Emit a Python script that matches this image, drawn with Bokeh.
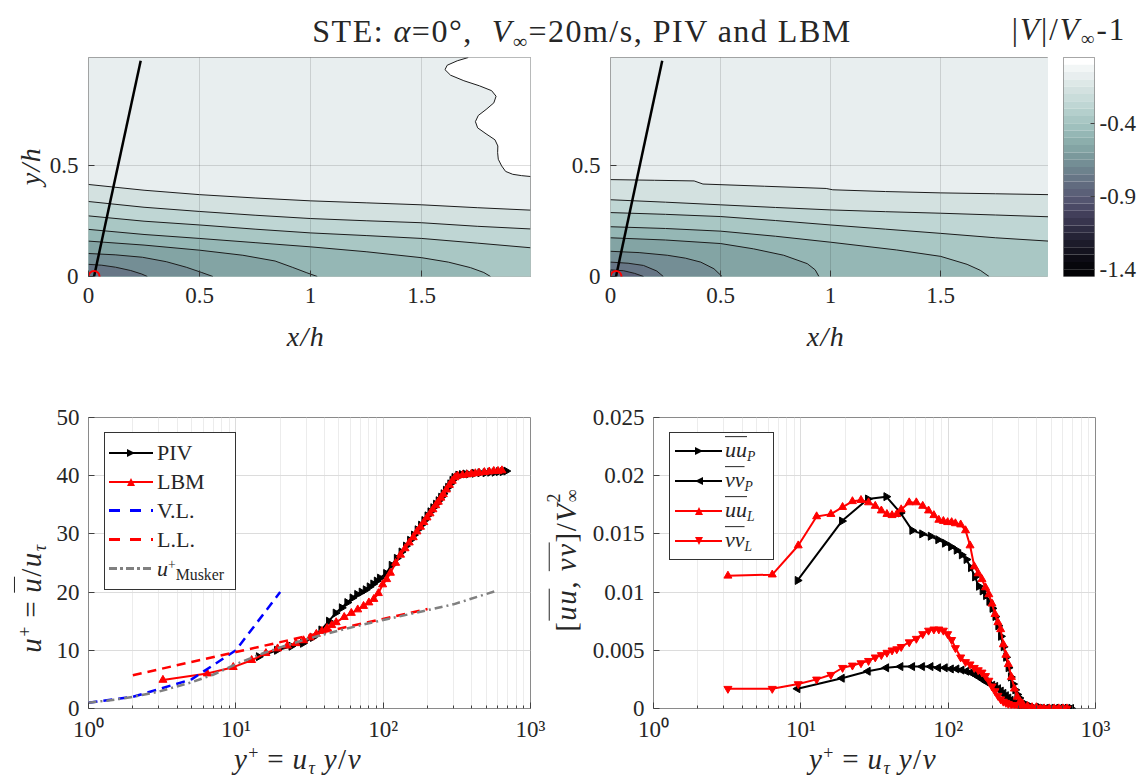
import math
from bokeh.plotting import figure
from bokeh.models import (ColumnDataSource, FixedTicker, Div, Range1d, CustomJSTickFormatter)
from bokeh.layouts import column, row
from bokeh.embed import file_html
from bokeh.resources import INLINE

FONT = "Liberation Serif"
TXT = "#262626"

# ---------------- colour scale of |V|/Vinf - 1 ----------------
cbar_high, cbar_low, cbar_step = 0.05, -1.45, 0.05
cbar_ticks = [-0.4, -0.9, -1.4]
cbar_palette = ["#ffffff", "#f2f6f6", "#e8eeef", "#dde8e7", "#d3e1e0", "#c9dcda",
                "#bfd6d4", "#b4cfcc", "#a9c7c4", "#9fc0bd", "#95b7b5", "#8caeac",
                "#83a4a4", "#7b999c", "#748e95", "#6d828d", "#677686", "#616b7f",
                "#5b6078", "#545570", "#4b4a66", "#423f5a", "#38354e", "#2e2c42",
                "#252336", "#1c1b2a", "#14131f", "#0d0c15", "#07070c", "#020205"]

# ---------------- contour lines (x/h, y/h), levels 0, -0.1, -0.2, ... ----------------
contour_levels = [0.0, -0.1, -0.2, -0.3, -0.4, -0.5, -0.6, -0.7, -0.8]

piv_c0_x = [1.71, 1.66, 1.615, 1.605, 1.63, 1.69, 1.76, 1.815, 1.835, 1.825, 1.79, 1.755, 1.742,
            1.752, 1.79, 1.83, 1.843, 1.842, 1.845, 1.86, 1.878, 1.91, 1.95, 1.99]
piv_c0_y = [0.99, 0.975, 0.955, 0.935, 0.91, 0.885, 0.862, 0.84, 0.815, 0.785, 0.755, 0.728, 0.70,
            0.672, 0.645, 0.618, 0.59, 0.56, 0.53, 0.50, 0.475, 0.462, 0.456, 0.452]
piv_c1_x = [0.0, 0.25, 0.5, 0.75, 1.0, 1.25, 1.5, 1.75, 1.99]
piv_c1_y = [0.416, 0.39, 0.37, 0.355, 0.342, 0.333, 0.324, 0.311, 0.30]
piv_c2_x = [0.0, 0.25, 0.5, 0.75, 1.0, 1.25, 1.5, 1.75, 1.99]
piv_c2_y = [0.339, 0.313, 0.294, 0.277, 0.262, 0.252, 0.243, 0.227, 0.215]
piv_c3_x = [0.0, 0.25, 0.5, 0.75, 1.0, 1.25, 1.5, 1.75, 1.99]
piv_c3_y = [0.274, 0.25, 0.233, 0.214, 0.197, 0.185, 0.172, 0.151, 0.13]
piv_c4_x = [0.0, 0.25, 0.5, 0.75, 1.0, 1.25, 1.5, 1.62, 1.72, 1.78, 1.81]
piv_c4_y = [0.213, 0.19, 0.172, 0.153, 0.134, 0.112, 0.085, 0.065, 0.04, 0.018, 0.0]
piv_c5_x = [0.0, 0.25, 0.5, 0.695, 0.84, 0.917, 0.98, 1.03]
piv_c5_y = [0.16, 0.142, 0.119, 0.096, 0.07, 0.042, 0.018, 0.0]
piv_c6_x = [0.0, 0.12, 0.243, 0.35, 0.44, 0.51, 0.56]
piv_c6_y = [0.104, 0.098, 0.087, 0.067, 0.042, 0.018, 0.0]
piv_c7_x = [0.0, 0.06, 0.122, 0.19, 0.24, 0.265]
piv_c7_y = [0.055, 0.051, 0.042, 0.027, 0.011, 0.0]

lbm_c1_x = [0.0, 0.2, 0.38, 0.42, 0.7, 0.98, 1.01, 1.25, 1.5, 1.75, 1.99]
lbm_c1_y = [0.438, 0.435, 0.432, 0.418, 0.408, 0.398, 0.392, 0.384, 0.378, 0.374, 0.37]
lbm_c2_x = [0.0, 0.25, 0.5, 0.75, 1.0, 1.25, 1.5, 1.75, 1.99]
lbm_c2_y = [0.347, 0.336, 0.324, 0.312, 0.301, 0.293, 0.286, 0.278, 0.27]
lbm_c3_x = [0.0, 0.25, 0.5, 0.75, 1.0, 1.25, 1.5, 1.75, 1.99]
lbm_c3_y = [0.289, 0.281, 0.271, 0.253, 0.233, 0.214, 0.195, 0.175, 0.16]
lbm_c4_x = [0.0, 0.25, 0.5, 0.75, 1.0, 1.3, 1.5, 1.62, 1.68, 1.72]
lbm_c4_y = [0.225, 0.217, 0.205, 0.182, 0.155, 0.12, 0.091, 0.055, 0.028, 0.0]
lbm_c5_x = [0.0, 0.25, 0.5, 0.65, 0.787, 0.894, 0.93, 0.947]
lbm_c5_y = [0.175, 0.165, 0.149, 0.125, 0.096, 0.058, 0.03, 0.0]
lbm_c6_x = [0.0, 0.13, 0.258, 0.34, 0.41, 0.47, 0.507]
lbm_c6_y = [0.114, 0.108, 0.096, 0.083, 0.065, 0.035, 0.0]
lbm_c7_x = [0.0, 0.08, 0.15, 0.21, 0.24]
lbm_c7_y = [0.065, 0.06, 0.05, 0.025, 0.0]
lbm_c8_x = [0.0, 0.06, 0.11, 0.15]
lbm_c8_y = [0.03, 0.026, 0.014, 0.0]

probe_x = [0.025, 0.235]
probe_y = [0.0, 0.975]

# ---------------- velocity profile u+ ----------------
piv_yp = [14.3, 19, 23.8, 28.5, 33.3, 38, 42.8, 47.5, 52.3, 57, 61.8, 66.5, 71.3, 76, 80.8, 85.5,
          90.3, 95, 104.5, 114, 123.5, 133, 142.5, 152, 161.5, 171, 180.5, 190, 199.5, 209, 218.5,
          228, 237.5, 247, 256.5, 266, 275.5, 285, 294.5, 304, 323, 342, 361, 380, 418, 456, 494,
          532, 570, 608, 646, 684]
piv_up = [8.9, 10.0, 10.7, 11.2, 12.2, 13.5, 15.0, 16.4, 17.3, 18.2, 19.0, 19.6, 20.0, 20.4, 20.9,
          21.4, 21.9, 22.4, 23.2, 24.6, 25.8, 26.9, 27.9, 28.9, 29.8, 30.7, 31.5, 32.3, 33.1, 33.8,
          34.5, 35.1, 35.7, 36.3, 36.9, 37.5, 38.0, 38.6, 39.2, 39.7, 40.1, 40.2, 40.3, 40.3, 40.4,
          40.5, 40.5, 40.6, 40.6, 40.7, 40.7, 40.8]
lbm_yp = [3.2, 6.4, 9.6, 12.8, 16, 19.2, 22.4, 25.6, 28.8, 32, 35.2, 38.4, 41.6, 44.8, 48, 54.4,
          60.8, 67.2, 73.6, 80, 86.4, 92.8, 99.2, 105.6, 112, 121.6, 131.2, 140.8, 150.4, 160,
          169.6, 179.2, 188.8, 198.4, 208, 217.6, 227.2, 236.8, 246.4, 256, 268.8, 281.6, 294.4,
          307.2, 320, 345.6, 371.2, 396.8, 422.4, 448, 486.4, 524.8, 563.2, 601.6, 640]
lbm_up = [4.9, 6.0, 7.1, 8.3, 9.5, 10.3, 10.8, 11.2, 11.7, 12.2, 12.8, 13.3, 13.8, 14.3, 14.8,
          15.7, 16.4, 17.0, 17.6, 18.2, 18.8, 19.8, 21.3, 22.2, 23.3, 25.0, 26.4, 27.5, 28.5, 29.4,
          30.4, 31.2, 32.0, 32.8, 33.5, 34.2, 34.9, 35.5, 36.2, 36.8, 37.6, 38.4, 39.1, 39.7, 40.0,
          40.1, 40.2, 40.3, 40.4, 40.5, 40.6, 40.7, 40.8, 40.8, 40.9]
vl_yp = [1, 2, 5, 10, 20]
vl_up = [1, 2, 5, 10, 20]
ll_yp = [2, 5, 10, 20, 50, 100, 200]
ll_up = [5.7, 8.0, 9.7, 11.4, 13.7, 15.4, 17.1]
musker_yp = [1, 1.5, 2, 3, 5, 7, 10, 15, 20, 30, 50, 70, 100, 200, 300, 600]
musker_up = [1.0, 1.5, 2.0, 2.9, 4.5, 5.8, 7.6, 9.4, 10.5, 11.9, 13.4, 14.3, 15.2, 16.9, 17.9, 20.3]

# ---------------- Reynolds stresses ----------------
piv_rs_yp = [9.5, 19, 28.5, 38, 47.5, 57, 66.5, 76, 85.5, 95, 104.5, 114, 123.5, 133, 142.5, 152,
             161.5, 171, 180.5, 190, 199.5, 209, 218.5, 228, 237.5, 247, 256.5, 266, 275.5, 285,
             294.5, 304, 323, 342, 361, 380, 418, 456, 494, 532, 570, 608, 646, 684]
piv_uu = [0.0110, 0.0161, 0.0180, 0.0182, 0.0168, 0.0153, 0.0150, 0.0148, 0.0145, 0.0142, 0.0139,
          0.0136, 0.0132, 0.0128, 0.0121, 0.0113, 0.0105, 0.0101, 0.0097, 0.0092, 0.0086, 0.0079,
          0.0071, 0.0062, 0.0053, 0.0044, 0.0035, 0.0027, 0.0021, 0.0016, 0.0012, 0.0009, 0.0005,
          0.0003, 0.0002, 0.0001, 0.0001, 0.0, 0.0, 0.0, 0.0, 0.0, 0.0, 0.0]
piv_vv = [0.0017, 0.0026, 0.0032, 0.0035, 0.0036, 0.0036, 0.0036, 0.0036, 0.0035, 0.0035, 0.0034,
          0.0034, 0.0033, 0.0032, 0.0031, 0.0029, 0.0027, 0.0025, 0.0023, 0.0022, 0.0020, 0.0019,
          0.0017, 0.0015, 0.0013, 0.0011, 0.0009, 0.0007, 0.0005, 0.0004, 0.0003, 0.0002, 0.0001,
          0.0001, 0.0, 0.0, 0.0, 0.0, 0.0, 0.0, 0.0, 0.0, 0.0, 0.0]
lbm_uu = [0.0114, 0.0115, 0.0140, 0.0165, 0.0167, 0.0173, 0.0178, 0.0179, 0.0177, 0.0174, 0.0170,
          0.0167, 0.0166, 0.0167, 0.0171, 0.0177, 0.0177, 0.0174, 0.0170, 0.0166, 0.0162, 0.0161,
          0.0160, 0.0160, 0.0159, 0.0158, 0.0153, 0.0140, 0.0122, 0.0116, 0.0111, 0.0104, 0.0098,
          0.0090, 0.0081, 0.0074, 0.0068, 0.0055, 0.0046, 0.0038, 0.0027, 0.0017, 0.0010, 0.0006,
          0.0004, 0.0002, 0.0001, 0.0001, 0.0, 0.0, 0.0, 0.0, 0.0, 0.0, 0.0]
lbm_vv = [0.0017, 0.0017, 0.0021, 0.0025, 0.0029, 0.0035, 0.0037, 0.0039, 0.0041, 0.0044, 0.0046,
          0.0048, 0.0050, 0.0051, 0.0053, 0.0057, 0.0060, 0.0064, 0.0067, 0.0068, 0.0068, 0.0067,
          0.0064, 0.0059, 0.0052, 0.0044, 0.0040, 0.0038, 0.0035, 0.0033, 0.0031, 0.0028, 0.0024,
          0.0019, 0.0015, 0.0011, 0.0008, 0.0006, 0.0005, 0.0004, 0.0003, 0.0003, 0.0002, 0.0002,
          0.0001, 0.0001, 0.0, 0.0, 0.0, 0.0, 0.0, 0.0, 0.0, 0.0, 0.0]

# ======================================================================
def band_color(v):
    i = int(math.floor((cbar_high - v) / cbar_step + 1e-9))
    return cbar_palette[max(0, min(len(cbar_palette) - 1, i))]


def style_axes(p, xstand=8, ystand=9):
    for ax in p.axis:
        ax.axis_line_color = None
        ax.major_tick_in = 6
        ax.major_tick_out = 0
        ax.minor_tick_in = 3
        ax.minor_tick_out = 0
        ax.major_tick_line_color = "#404040"
        ax.minor_tick_line_color = "#404040"
        ax.major_label_text_font = FONT
        ax.major_label_text_font_size = "23px"
        ax.major_label_text_color = TXT
    p.xaxis.major_label_standoff = xstand
    p.yaxis.major_label_standoff = ystand
    p.outline_line_color = "#8a8a8a"
    p.outline_line_width = 1


plain_fmt = CustomJSTickFormatter(code="return tick.toString();")
log_fmt = CustomJSTickFormatter(code="""
const e = Math.round(Math.log10(tick));
const s = {"0": "\u2070", "1": "\u00b9", "2": "\u00b2", "3": "\u00b3"};
return "10" + s[String(e)];""")


def make_contour(lines, w, bl, br):
    xmax, ymax = 1.99, 0.99
    p = figure(width=w, height=322, min_border_left=bl, min_border_right=br,
               min_border_top=9, min_border_bottom=94, x_range=Range1d(0, xmax),
               y_range=Range1d(0, ymax), toolbar_location=None, output_backend="svg")
    xs, ys, cs = [[0, xmax, xmax, 0]], [[0, 0, ymax, ymax]], [band_color(contour_levels[1] + 0.05)]
    for (lx, ly), lev in lines:
        if lev == 0.0:
            xs.append(lx + [xmax]); ys.append(ly + [ymax]); cs.append(band_color(lev + 0.025))
        elif ly[-1] == 0.0:
            xs.append(lx + [0.0]); ys.append(ly + [0.0]); cs.append(band_color(lev - 0.05))
        else:
            xs.append(lx + [xmax, 0.0]); ys.append(ly + [0.0, 0.0]); cs.append(band_color(lev - 0.05))
    p.patches(xs=xs, ys=ys, fill_color=cs, line_color=None)
    p.multi_line(xs=[l[0][0] for l in lines], ys=[l[0][1] for l in lines],
                 line_color="#1c1c1c", line_width=1)
    p.line(probe_x, probe_y, line_color="black", line_width=2.5)
    p.scatter(probe_x[:1], probe_y[:1], marker="circle", size=11, fill_color=None,
              line_color="#ff0000", line_width=2)
    tx = FixedTicker(ticks=[0, 0.5, 1, 1.5])
    ty = FixedTicker(ticks=[0, 0.5])
    p.xaxis.ticker = tx; p.xgrid.ticker = tx
    p.yaxis.ticker = ty; p.ygrid.ticker = ty
    p.xaxis.formatter = plain_fmt
    p.yaxis.formatter = plain_fmt
    p.grid.grid_line_color = "#000000"
    p.grid.grid_line_alpha = 0.13
    p.grid.level = "overlay"
    style_axes(p, xstand=11, ystand=10)
    return p


piv_lines = [((piv_c0_x, piv_c0_y), 0.0), ((piv_c1_x, piv_c1_y), -0.1), ((piv_c2_x, piv_c2_y), -0.2),
             ((piv_c3_x, piv_c3_y), -0.3), ((piv_c4_x, piv_c4_y), -0.4), ((piv_c5_x, piv_c5_y), -0.5),
             ((piv_c6_x, piv_c6_y), -0.6), ((piv_c7_x, piv_c7_y), -0.7)]
lbm_lines = [((lbm_c1_x, lbm_c1_y), -0.1), ((lbm_c2_x, lbm_c2_y), -0.2), ((lbm_c3_x, lbm_c3_y), -0.3),
             ((lbm_c4_x, lbm_c4_y), -0.4), ((lbm_c5_x, lbm_c5_y), -0.5), ((lbm_c6_x, lbm_c6_y), -0.6),
             ((lbm_c7_x, lbm_c7_y), -0.7), ((lbm_c8_x, lbm_c8_y), -0.8)]

p_tl = make_contour(piv_lines, 560, 80, 38)
p_tr = make_contour(lbm_lines, 480, 40, 0)

# colour bar
p_cb = figure(width=90, height=322, min_border_left=15, min_border_right=44, min_border_top=9,
              min_border_bottom=94, x_range=Range1d(0, 1), y_range=Range1d(cbar_low, cbar_high),
              y_axis_location="right", toolbar_location=None, output_backend="svg")
n_b = len(cbar_palette)
cb_src = ColumnDataSource(dict(top=[cbar_high - i * cbar_step for i in range(n_b)],
                               bottom=[cbar_high - (i + 1) * cbar_step for i in range(n_b)],
                               color=cbar_palette))
p_cb.quad(left=0, right=1, top="top", bottom="bottom", fill_color="color", line_color=None, source=cb_src)
p_cb.xaxis.visible = False
p_cb.grid.visible = False
p_cb.yaxis.ticker = FixedTicker(ticks=cbar_ticks)
p_cb.yaxis.formatter = plain_fmt
style_axes(p_cb, ystand=5)
p_cb.yaxis.major_tick_in = 4

# ---------------- bottom plots ----------------
minor_log = [m * d for d in (1, 10, 100) for m in range(2, 10)]


def make_log(w, bl, br, yr, yticks):
    p = figure(width=w, height=403, min_border_left=bl, min_border_right=br, min_border_top=47,
               min_border_bottom=65, x_axis_type="log", x_range=Range1d(1, 1000),
               y_range=Range1d(*yr), toolbar_location=None, output_backend="svg")
    tk = FixedTicker(ticks=[1, 10, 100, 1000], minor_ticks=minor_log)
    p.xaxis.ticker = tk; p.xgrid.ticker = tk
    ty = FixedTicker(ticks=yticks)
    p.yaxis.ticker = ty; p.ygrid.ticker = ty
    p.xaxis.formatter = log_fmt
    p.yaxis.formatter = plain_fmt
    p.grid.grid_line_color = "#dcdcdc"
    p.xgrid.minor_grid_line_color = "#ececec"
    style_axes(p)
    return p


p_bl = make_log(540, 80, 18, (0, 50), [0, 10, 20, 30, 40, 50])
p_bl.line(piv_yp, piv_up, line_color="black", line_width=2)
p_bl.scatter(piv_yp, piv_up, marker="triangle", angle=-math.pi / 2, size=8,
             fill_color="black", line_color="black")
p_bl.line(lbm_yp, lbm_up, line_color="#ff0000", line_width=2)
p_bl.scatter(lbm_yp, lbm_up, marker="triangle", size=8, fill_color="#ff0000", line_color="#ff0000")
p_bl.line(vl_yp, vl_up, line_color="#0000ff", line_width=2.5, line_dash="9 6")
p_bl.line(ll_yp, ll_up, line_color="#ff0000", line_width=2.5, line_dash="9 6")
p_bl.line(musker_yp, musker_up, line_color="#808080", line_width=2.5, line_dash="8 4 2 4")

p_br = make_log(590, 105, 43, (0, 0.025), [0, 0.005, 0.01, 0.015, 0.02, 0.025])
p_br.line(piv_rs_yp, piv_uu, line_color="black", line_width=2)
p_br.scatter(piv_rs_yp, piv_uu, marker="triangle", angle=-math.pi / 2, size=8,
             fill_color="black", line_color="black")
p_br.line(piv_rs_yp, piv_vv, line_color="black", line_width=2)
p_br.scatter(piv_rs_yp, piv_vv, marker="triangle", angle=math.pi / 2, size=8,
             fill_color="black", line_color="black")
p_br.line(lbm_yp, lbm_uu, line_color="#ff0000", line_width=2)
p_br.scatter(lbm_yp, lbm_uu, marker="triangle", size=8, fill_color="#ff0000", line_color="#ff0000")
p_br.line(lbm_yp, lbm_vv, line_color="#ff0000", line_width=2)
p_br.scatter(lbm_yp, lbm_vv, marker="inverted_triangle", size=8, fill_color="#ff0000",
             line_color="#ff0000")

# ---------------- HTML text layer (titles, axis labels, legends) ----------------
OX, OY = 8, 8   # page position of the overlay origin


def txt(x, y, inner, size, italic=False, rot=False, ls=0.0):
    tr = "translate(-50%,-50%)" + (" rotate(-90deg)" if rot else "")
    st = "italic" if italic else "normal"
    return (f'<div style="position:absolute;left:{x - OX}px;top:{y - OY}px;transform:{tr};'
            f'white-space:nowrap;font-size:{size}px;line-height:1.15;font-style:{st};'
            f'letter-spacing:{ls}px;">{inner}</div>')


def txt_left(x, y, inner, size):
    return (f'<div style="position:absolute;left:{x - OX}px;top:{y - OY}px;transform:translate(0,-50%);'
            f'white-space:nowrap;font-size:{size}px;line-height:1.15;">{inner}</div>')


def box(x, y, w, h):
    return (f'<div style="position:absolute;left:{x - OX}px;top:{y - OY}px;width:{w}px;height:{h}px;'
            f'border:1px solid #333;background:#fff;box-sizing:border-box;"></div>')


def seg(x0, x1, yc, color, lw=2, dash=None):
    if dash is None:
        bg = color
    else:
        stops, pos = [], 0
        for k, d in enumerate(dash):
            c = color if k % 2 == 0 else "transparent"
            stops.append(f"{c} {pos}px {pos + d}px")
            pos += d
        bg = "repeating-linear-gradient(to right, " + ", ".join(stops) + ")"
    return (f'<div style="position:absolute;left:{x0 - OX}px;top:{yc - OY - lw / 2}px;width:{x1 - x0}px;'
            f'height:{lw}px;background:{bg};"></div>')


def tri(xc, yc, direction, color, s=4):
    t = "transparent"
    if direction == "right":
        b = f"border-left:{2 * s}px solid {color};border-top:{s}px solid {t};border-bottom:{s}px solid {t};"
    elif direction == "left":
        b = f"border-right:{2 * s}px solid {color};border-top:{s}px solid {t};border-bottom:{s}px solid {t};"
    elif direction == "up":
        b = f"border-bottom:{2 * s}px solid {color};border-left:{s}px solid {t};border-right:{s}px solid {t};"
    else:
        b = f"border-top:{2 * s}px solid {color};border-left:{s}px solid {t};border-right:{s}px solid {t};"
    return (f'<div style="position:absolute;left:{xc - s - OX}px;top:{yc - s - OY}px;width:0;height:0;{b}"></div>')


OL = '<span style="text-decoration:overline;text-decoration-thickness:1px;">'
SUB = '<sub style="font-size:0.62em;vertical-align:-0.3em;">'
SUP = '<sup style="font-size:0.62em;vertical-align:0.55em;">'
I = lambda s: f"<i>{s}</i>"

parts = []
# titles
parts.append(txt(582, 33, f'STE: {I("α")}=0°, &nbsp;{I("V")}{SUB}∞</sub>=20m/s, PIV and LBM', 32, ls=1.5))
parts.append(txt(1069, 31, f'|{I("V")}|/{I("V")}{SUB}∞</sub>-1', 31, ls=2))
# axis labels, top row
parts.append(txt(31, 166, "y/h", 28, italic=True, rot=True, ls=1.5))
parts.append(txt(306, 337, "x/h", 28, italic=True, ls=1.5))
parts.append(txt(826, 337, "x/h", 28, italic=True, ls=1.5))
# axis labels, bottom row
yplus = f'{I("y")}{SUP}+</sup>&thinsp;=&thinsp;{I("u")}{SUB}{I("τ")}</sub>&thinsp;{I("y")}/{I("ν")}'
parts.append(txt(298, 761, yplus, 29, ls=1.5))
parts.append(txt(873, 761, yplus, 29, ls=1.5))
uplus = f'{I("u")}{SUP}+</sup>&thinsp;=&thinsp;{OL}{I("u")}</span>/{I("u")}{SUB}{I("τ")}</sub>'
parts.append(txt(33, 598, uplus, 29, rot=True, ls=1.5))
rs = (f'[{OL}{I("uu")}</span>, {OL}{I("vv")}</span>]/{I("V")}'
      f'<span style="display:inline-block;line-height:1;vertical-align:-0.1em;font-size:0.62em;">'
      f'<span style="display:block">2</span><span style="display:block">∞</span></span>')
parts.append(txt(564, 560, rs, 29, rot=True, ls=1.5))

# legend, bottom-left
lx, ly, lrow = 104, 432, 29
parts.append(box(lx, ly, 132, 158))
leg_l = [("PIV", "#000000", None, "right"), ("LBM", "#ff0000", None, "up"),
         ("V.L.", "#0000ff", [11, 10], None), ("L.L.", "#ff0000", [11, 10], None),
         (f'{I("u")}{SUP}+</sup><span style="font-size:0.72em;position:relative;top:0.3em;">Musker</span>',
          "#808080", [8, 3, 3, 3], None)]
for i, (label, col, dash, mk) in enumerate(leg_l):
    yc = ly + 6 + lrow * i + lrow / 2
    parts.append(seg(lx + 5, lx + 49, yc, col, lw=2 if dash is None else 2.5, dash=dash))
    if mk:
        parts.append(tri(lx + 27, yc, mk, col, s=4))
    parts.append(txt_left(lx + 53, yc, label, 22))

# legend, bottom-right
rx, ry, rrow = 669, 432, 30
parts.append(box(rx, ry, 105, 128))
leg_r = [("uu", "P", "#000000", "right"), ("vv", "P", "#000000", "left"),
         ("uu", "L", "#ff0000", "up"), ("vv", "L", "#ff0000", "down")]
for i, (base, sub, col, mk) in enumerate(leg_r):
    yc = ry + 4 + rrow * i + rrow / 2
    parts.append(seg(rx + 6, rx + 53, yc, col, lw=2))
    parts.append(tri(rx + 30, yc, mk, col, s=4))
    parts.append(txt_left(rx + 56, yc, f'{OL}{I(base)}</span>{SUB}{I(sub)}</sub>', 22))

overlay_html = (
    '<div style="position:relative;width:1130px;height:1px;">'
    f'<div style="position:absolute;left:0px;top:-776px;width:1130px;height:765px;z-index:1000;'
    f'pointer-events:none;font-family:\'{FONT}\',serif;color:{TXT};">' + "".join(parts) + '</div></div>')
overlay = Div(text=overlay_html, width=1130, height=1, margin=(0, 0, 0, 0),
              styles={"overflow": "visible", "z-index": "1000", "position": "relative"})

spacer_top = Div(text="", width=1130, height=40, margin=(0, 0, 0, 0))

layout = column(spacer_top, row(p_tl, p_tr, p_cb), row(p_bl, p_br), overlay,
                margin=(8, 0, 0, 8))
open("out.html", "w").write(file_html(layout, INLINE))
